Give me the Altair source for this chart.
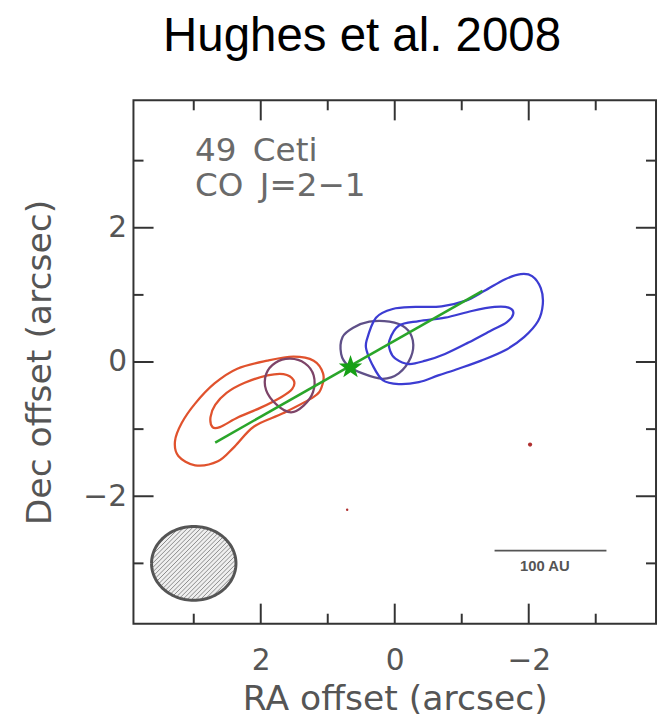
import altair as alt
import pandas as pd
import numpy as np

# ---- data (arcsec offsets) ----
red_outer_ra = [3.28, 3.18, 2.98, 2.69, 2.35, 1.90, 1.51, 1.21, 1.07, 1.09, 1.21, 1.66, 2.10, 2.39, 2.64, 2.98, 3.23]
red_outer_dec = [-1.18, -0.91, -0.62, -0.32, -0.10, 0.02, 0.08, 0.02, -0.17, -0.37, -0.52, -0.76, -0.96, -1.26, -1.48, -1.54, -1.40]

red_inner_ra = [1.90, 1.66, 1.51, 1.53, 1.69, 2.00, 2.33, 2.61, 2.72, 2.75, 2.68, 2.51, 2.24]
red_inner_dec = [-0.20, -0.18, -0.27, -0.40, -0.52, -0.68, -0.82, -0.97, -0.97, -0.82, -0.64, -0.46, -0.31]

purple_left_ra = [1.56, 1.34, 1.21, 1.22, 1.36, 1.55, 1.76, 1.92, 1.92, 1.78]
purple_left_dec = [0.05, -0.02, -0.20, -0.45, -0.65, -0.75, -0.64, -0.42, -0.18, -0.01]

purple_right_ra = [0.80, 0.70, 0.48, 0.18, -0.06, -0.24, -0.27, -0.16, 0.08, 0.38, 0.62, 0.78]
purple_right_dec = [0.12, -0.05, -0.17, -0.25, -0.17, 0.07, 0.32, 0.51, 0.60, 0.60, 0.51, 0.37]

blue_outer_ra = [0.42, 0.28, 0.03, -0.31, -0.70, -1.05, -1.34, -1.64, -1.88, -2.05, -2.18, -2.21,
                 -2.14, -1.93, -1.64, -1.29, -0.95, -0.65, -0.36, -0.06, 0.18, 0.34, 0.42]
blue_outer_dec = [0.32, 0.66, 0.79, 0.82, 0.83, 0.91, 1.06, 1.23, 1.31, 1.28, 1.10, 0.86,
                  0.61, 0.37, 0.17, 0.02, -0.10, -0.20, -0.30, -0.33, -0.27, -0.03, 0.17]

blue_inner_ra = [0.08, -0.06, -0.36, -0.75, -1.15, -1.49, -1.70, -1.77, -1.67, -1.44, -1.10, -0.75,
                 -0.46, -0.21, -0.01, 0.07]
blue_inner_dec = [0.32, 0.54, 0.61, 0.66, 0.76, 0.82, 0.81, 0.72, 0.59, 0.47, 0.29, 0.12,
                  0.02, -0.03, 0.05, 0.17]

contour_names = ["red_outer", "red_inner", "purple_left", "purple_right", "blue_outer", "blue_inner"]
contour_colors = ["#e0522d", "#e0522d", "#7d4468", "#5f5088", "#3c3cd2", "#3c3cd2"]

axis_line_ra = [2.68, -1.31]
axis_line_dec = [-1.20, 1.06]

star_ra, star_dec = [0.66], [-0.08]
spot_ra, spot_dec = [-2.02, 0.71], [-1.23, -2.20]

beam_ra, beam_dec = 3.0, -3.0
beam_a, beam_b = 0.63, 0.55

bar_ra = [-1.49, -3.16]
bar_dec = -2.81
bar_label = "100 AU"
bar_label_pos = (-2.24, -3.04)

label_lines = ["49\u2002Ceti", "CO\u2002J=2\u22121"]
label_ra = 2.98
label_dec = [3.0, 2.48]

lim = 3.9
major_ticks = [-2, 0, 2]
minor_ticks = [-3, -1, 1, 3]
major_len, minor_len = 0.30, 0.15

# ---- build tables ----
rows = []
series = [red_outer_ra, red_inner_ra, purple_left_ra, purple_right_ra, blue_outer_ra, blue_inner_ra]
series_d = [red_outer_dec, red_inner_dec, purple_left_dec, purple_right_dec, blue_outer_dec, blue_inner_dec]
for name, ras, decs in zip(contour_names, series, series_d):
    for i, (r, d) in enumerate(zip(ras, decs)):
        rows.append(dict(c=name, i=i, ra=r, dec=d))
cdf = pd.DataFrame(rows)

ldf = pd.DataFrame(dict(ra=axis_line_ra, dec=axis_line_dec))
sdf = pd.DataFrame(dict(ra=star_ra, dec=star_dec))
pdf = pd.DataFrame(dict(ra=spot_ra, dec=spot_dec, s=[18, 6]))

t = np.linspace(0, np.pi, 80)
bdf = pd.DataFrame(dict(ra=beam_ra + beam_a * np.cos(t),
                        lo=beam_dec - beam_b * np.sin(t),
                        hi=beam_dec + beam_b * np.sin(t)))
tt = np.linspace(0, 2 * np.pi, 121)
bodf = pd.DataFrame(dict(i=np.arange(len(tt)), ra=beam_ra + beam_a * np.cos(tt), dec=beam_dec + beam_b * np.sin(tt)))

# hatch lines: dec - cy = -(ra - cx) + c
hatch = []
A = 1 / beam_a**2 + 1 / beam_b**2
cmax = np.sqrt(beam_a**2 + beam_b**2)
for c in np.arange(-cmax, cmax, 0.066):
    B = -2 * c / beam_b**2
    C = c**2 / beam_b**2 - 1
    disc = B * B - 4 * A * C
    if disc <= 0:
        continue
    u1 = (-B - np.sqrt(disc)) / (2 * A)
    u2 = (-B + np.sqrt(disc)) / (2 * A)
    hatch.append(dict(x=beam_ra + u1, y=beam_dec - u1 + c, x2=beam_ra + u2, y2=beam_dec - u2 + c))
hdf = pd.DataFrame(hatch)

ticks = []
for v in major_ticks + minor_ticks:
    L = major_len if v in major_ticks else minor_len
    ticks.append(dict(x=v, x2=v, y=-lim, y2=-lim + L))
    ticks.append(dict(x=v, x2=v, y=lim, y2=lim - L))
    ticks.append(dict(x=lim, x2=lim - L, y=v, y2=v))
    ticks.append(dict(x=-lim, x2=-lim + L, y=v, y2=v))
tdf = pd.DataFrame(ticks)

bardf = pd.DataFrame(dict(x=[bar_ra[0]], x2=[bar_ra[1]], y=[bar_dec], y2=[bar_dec]))
txtdf = pd.DataFrame(dict(ra=[label_ra, label_ra], dec=label_dec, t=label_lines))
bltdf = pd.DataFrame(dict(ra=[bar_label_pos[0]], dec=[bar_label_pos[1]], t=[bar_label]))

# 5-point star symbol path (unit box)
ang_o = np.deg2rad(np.arange(5) * 72 - 90)
ang_i = ang_o + np.deg2rad(36)
pts = []
for ao, ai in zip(ang_o, ang_i):
    pts.append((np.cos(ao), np.sin(ao)))
    pts.append((0.4 * np.cos(ai), 0.4 * np.sin(ai)))
STAR = "M" + " L".join(f"{px:.3f},{py:.3f}" for px, py in pts) + " Z"

# ---- scales/axes ----
FONT = "DejaVu Sans"
xscale = alt.Scale(domain=[-lim, lim], reverse=True, nice=False, zero=False)
yscale = alt.Scale(domain=[-lim, lim], nice=False, zero=False)
xaxis = alt.Axis(values=major_ticks, title="RA offset (arcsec)", grid=False, ticks=False, tickSize=0,
                 domain=False, labelPadding=22, labelFontSize=30, labelFont=FONT, labelColor="#555",
                 titleFont=FONT, titleFontSize=35, titleFontWeight="normal", titleColor="#555",
                 titleY=87, titleBaseline="alphabetic")
yaxis = alt.Axis(values=major_ticks, title="Dec offset (arcsec)", grid=False, ticks=False, tickSize=0,
                 domain=False, labelPadding=7, labelFontSize=30, labelFont=FONT, labelColor="#555",
                 titleFont=FONT, titleFontSize=35, titleFontWeight="normal", titleColor="#555",
                 titleX=-84, titleY=265, titleAngle=-90, titleBaseline="alphabetic", titleAlign="center")

X = alt.X("ra:Q", scale=xscale, axis=xaxis)
Y = alt.Y("dec:Q", scale=yscale, axis=yaxis)

contours = alt.Chart(cdf).mark_line(interpolate="cardinal-closed", strokeWidth=2.3).encode(
    x=X, y=Y, detail="c:N", order=alt.Order("i:Q"),
    color=alt.Color("c:N", scale=alt.Scale(domain=contour_names, range=contour_colors), legend=None))

line = alt.Chart(ldf).mark_line(color="#2aa52a", strokeWidth=2.5).encode(x=X, y=Y)
star = alt.Chart(sdf).mark_point(shape=STAR, filled=True, size=620, color="#16a016", opacity=1).encode(x=X, y=Y)
spots = alt.Chart(pdf).mark_point(shape="circle", filled=True, color="#b03030", opacity=1).encode(
    x=X, y=Y, size=alt.Size("s:Q", scale=None, legend=None))

beam_fill = alt.Chart(bdf).mark_area(color="#efefef", opacity=1).encode(
    x=alt.X("ra:Q", scale=xscale, axis=xaxis), y=alt.Y("lo:Q", scale=yscale, axis=yaxis), y2="hi:Q")
beam_hatch = alt.Chart(hdf).mark_rule(color="#8a8a8a", strokeWidth=1).encode(
    x=alt.X("x:Q", scale=xscale, axis=xaxis), y=alt.Y("y:Q", scale=yscale, axis=yaxis), x2="x2:Q", y2="y2:Q")
beam_out = alt.Chart(bodf).mark_line(color="#555555", strokeWidth=3).encode(
    x=X, y=Y, order=alt.Order("i:Q"))

tick_rules = alt.Chart(tdf).mark_rule(color="#333333", strokeWidth=2).encode(
    x=alt.X("x:Q", scale=xscale, axis=xaxis), y=alt.Y("y:Q", scale=yscale, axis=yaxis), x2="x2:Q", y2="y2:Q")

bar = alt.Chart(bardf).mark_rule(color="#555555", strokeWidth=2).encode(
    x=alt.X("x:Q", scale=xscale, axis=xaxis), y=alt.Y("y:Q", scale=yscale, axis=yaxis), x2="x2:Q", y2="y2:Q")
bar_txt = alt.Chart(bltdf).mark_text(font="Liberation Sans", fontSize=15, fontWeight="bold", color="#555",
                                     align="center", baseline="middle").encode(x=X, y=Y, text="t:N")

labels = alt.Chart(txtdf).mark_text(font=FONT, fontSize=33, color="#6a6a6a", align="left",
                                    baseline="alphabetic").encode(x=X, y=Y, text="t:N")

chart = alt.layer(beam_fill, beam_hatch, beam_out, contours, line, star, spots, tick_rules, bar, bar_txt, labels).properties(
    width=529, height=530,
    title=alt.TitleParams("Hughes et al. 2008", font="Liberation Sans", fontSize=48, fontWeight="normal",
                          color="#000", anchor="start", frame="group", dx=30, offset=1, baseline="alphabetic"),
    autosize=alt.AutoSizeParams(type="none"),
    padding={"left": 127, "top": 89, "right": 2, "bottom": 90},
    background="white",
).configure_view(stroke="#333333", strokeWidth=2)

chart.save("out.html", embed_options={"renderer": "svg", "actions": False})
